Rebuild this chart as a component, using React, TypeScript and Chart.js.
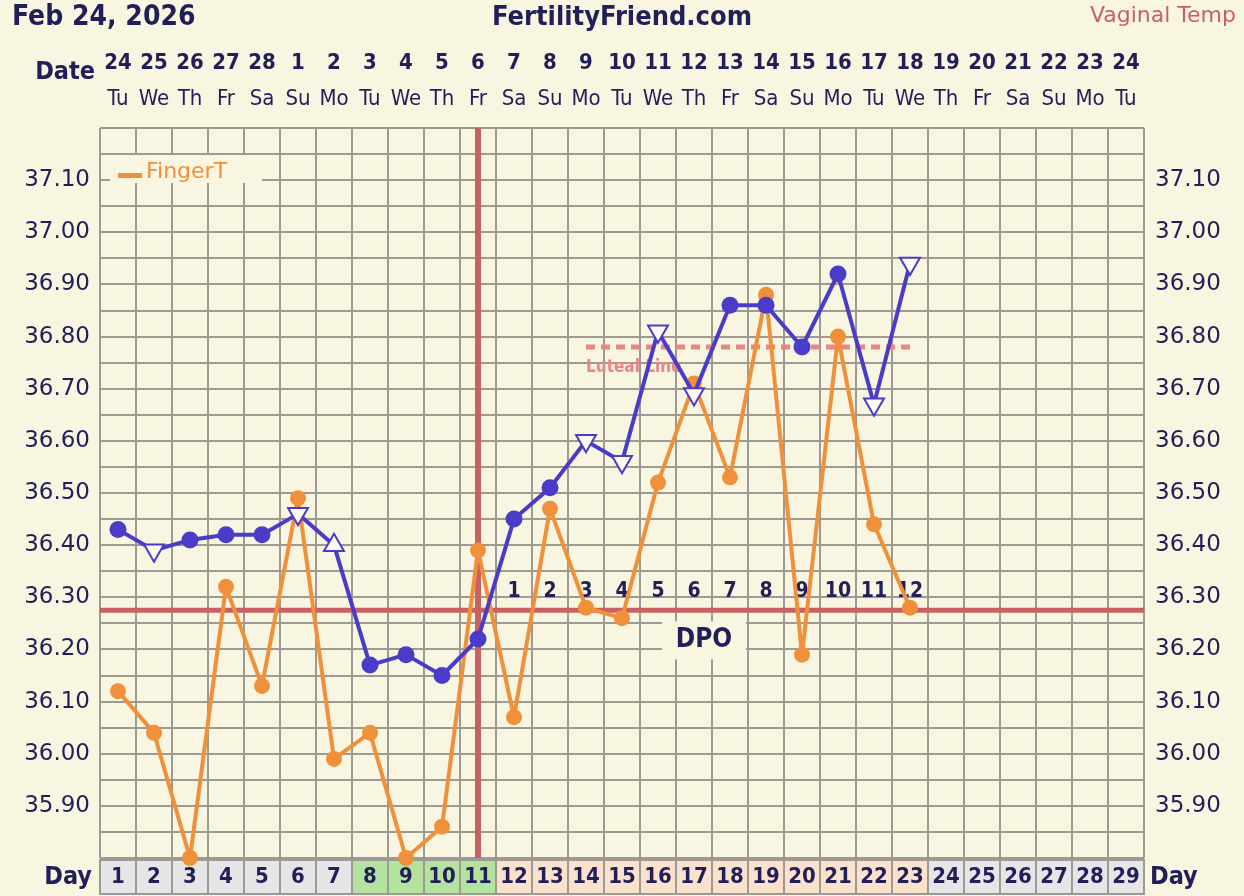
import React, { useEffect, useRef } from 'react';
import { Chart, registerables } from 'chart.js';

Chart.register(...registerables);

// ---------- data ----------
const CYCLE_DAYS = ['1', '2', '3', '4', '5', '6', '7', '8', '9', '10', '11', '12', '13', '14', '15', '16', '17', '18', '19', '20', '21', '22', '23', '24', '25', '26', '27', '28', '29'];
const DATES = ['24', '25', '26', '27', '28', '1', '2', '3', '4', '5', '6', '7', '8', '9', '10', '11', '12', '13', '14', '15', '16', '17', '18', '19', '20', '21', '22', '23', '24'];
const WEEKDAYS = ['Tu', 'We', 'Th', 'Fr', 'Sa', 'Su', 'Mo', 'Tu', 'We', 'Th', 'Fr', 'Sa', 'Su', 'Mo', 'Tu', 'We', 'Th', 'Fr', 'Sa', 'Su', 'Mo', 'Tu', 'We', 'Th', 'Fr', 'Sa', 'Su', 'Mo', 'Tu'];

const VAGINAL_TEMP = [36.43, 36.39, 36.41, 36.42, 36.42, 36.46, 36.40, 36.17, 36.19, 36.15, 36.22, 36.45, 36.51, 36.60, 36.56, 36.81, 36.69, 36.86, 36.86, 36.78, 36.92, 36.67, 36.94];
const VAGINAL_MARKERS = ['dot', 'down', 'dot', 'dot', 'dot', 'down', 'up', 'dot', 'dot', 'dot', 'dot', 'dot', 'dot', 'down', 'down', 'down', 'down', 'dot', 'dot', 'dot', 'dot', 'down', 'down'];
const FINGER_TEMP = [36.12, 36.04, 35.80, 36.32, 36.13, 36.49, 35.99, 36.04, 35.80, 35.86, 36.39, 36.07, 36.47, 36.28, 36.26, 36.52, 36.71, 36.53, 36.88, 36.19, 36.80, 36.44, 36.28];

const DAY_PHASE = ['pre', 'pre', 'pre', 'pre', 'pre', 'pre', 'pre', 'fertile', 'fertile', 'fertile', 'fertile', 'luteal', 'luteal', 'luteal', 'luteal', 'luteal', 'luteal', 'luteal', 'luteal', 'luteal', 'luteal', 'luteal', 'luteal', 'pre', 'pre', 'pre', 'pre', 'pre', 'pre'];
const DPO_LABELS = ['1', '2', '3', '4', '5', '6', '7', '8', '9', '10', '11', '12'];
const DPO_START_DAY = 12;
const DPO_TITLE_DAY = 17;
const COVERLINE = 36.275;
const OVULATION_DAY = 11;
const LUTEAL_LINE = 36.78;
const LUTEAL_FROM_DAY = 14;
const LUTEAL_TO_DAY = 23;
const Y_MIN = 35.8;
const Y_MAX = 37.2;

// ---------- style ----------
const BG = '#f8f5e0';
const GRID = '#9c9a92';
const NAVY = '#221e5a';
const BLUE = '#4b3bc9';
const ORANGE = '#f0903a';
const RED = '#c86262';
const LUTEAL = '#e98686';
const TRI_FILL = '#fcfbf3';
const PHASE_COLORS: Record<string, string> = { pre: '#e6e6e9', fertile: '#b4e3a0', luteal: '#fbe2cc' };
const COND = "'DejaVu Sans Condensed', 'DejaVu Sans', sans-serif";
const SANS = "'DejaVu Sans', sans-serif";

const lutealData = CYCLE_DAYS.map((d) => {
  const n = Number(d);
  return n >= LUTEAL_FROM_DAY && n <= LUTEAL_TO_DAY ? LUTEAL_LINE : null;
});

const yTick = (v: number | string) => {
  const r = Math.round(Number(v) * 100);
  if (r % 10 !== 0 || r === Math.round(Y_MIN * 100) || r === Math.round(Y_MAX * 100)) return '';
  return (r / 100).toFixed(2);
};

const decorations = {
  id: 'decorations',
  beforeDraw(chart: any) {
    const { ctx, chartArea, scales } = chart;
    const x = scales.x;
    ctx.save();
    ctx.fillStyle = BG;
    ctx.fillRect(0, 0, chart.width, chart.height);

    // day cells
    const colW = x.getPixelForValue(1) - x.getPixelForValue(0);
    const top = chartArea.bottom + 2;
    const bottom = chart.height - 2;
    DAY_PHASE.forEach((phase, i) => {
      const cx = x.getPixelForValue(i);
      ctx.fillStyle = PHASE_COLORS[phase];
      ctx.fillRect(cx - colW / 2, top, colW, bottom - top);
    });
    ctx.strokeStyle = GRID;
    ctx.lineWidth = 2;
    DAY_PHASE.forEach((_p, i) => {
      const cx = x.getPixelForValue(i);
      ctx.strokeRect(cx - colW / 2, top, colW, bottom - top);
    });

    // header texts
    ctx.textBaseline = 'middle';
    ctx.fillStyle = NAVY;
    ctx.font = `bold 28px ${COND}`;
    ctx.textAlign = 'left';
    ctx.fillText('Feb 24, 2026', 12, 18);
    ctx.font = `bold 27px ${COND}`;
    ctx.textAlign = 'center';
    ctx.fillText('FertilityFriend.com', (chartArea.left + chartArea.right) / 2, 18);
    ctx.fillStyle = RED;
    ctx.font = `22px ${SANS}`;
    ctx.textAlign = 'right';
    ctx.fillText('Vaginal Temp', chart.width - 8, 16);

    ctx.fillStyle = NAVY;
    ctx.font = `bold 25px ${COND}`;
    ctx.textAlign = 'right';
    ctx.fillText('Date', chartArea.left - 5, 72);
    const dayY = (top + bottom) / 2;
    ctx.fillText('Day', chartArea.left - 8, dayY);
    ctx.textAlign = 'left';
    ctx.fillText('Day', chartArea.right + 6, dayY);
    ctx.restore();
  },
  beforeDatasetsDraw(chart: any) {
    const { ctx, chartArea, scales } = chart;
    const x = scales.x;
    const y = scales.y;
    ctx.save();

    // legend box
    ctx.fillStyle = BG;
    ctx.fillRect(chartArea.left + 10, chartArea.top + 27, 152, 28);
    ctx.fillStyle = ORANGE;
    ctx.fillRect(chartArea.left + 18, chartArea.top + 45, 24, 5);
    ctx.font = `22px ${SANS}`;
    ctx.textBaseline = 'middle';
    ctx.textAlign = 'left';
    ctx.fillText('FingerT', chartArea.left + 46, chartArea.top + 44);

    // coverline & ovulation line
    const cy = y.getPixelForValue(COVERLINE);
    ctx.strokeStyle = RED;
    ctx.lineWidth = 5;
    ctx.beginPath();
    ctx.moveTo(chartArea.left, cy);
    ctx.lineTo(chartArea.right, cy);
    ctx.stroke();
    const ox = x.getPixelForValue(OVULATION_DAY - 1);
    ctx.lineWidth = 6;
    ctx.beginPath();
    ctx.moveTo(ox, chartArea.top);
    ctx.lineTo(ox, chartArea.bottom);
    ctx.stroke();

    // DPO box
    const dx = x.getPixelForValue(DPO_TITLE_DAY - 1) + 10;
    ctx.fillStyle = BG;
    ctx.fillRect(dx - 42, cy + 11, 84, 38);
    ctx.fillStyle = NAVY;
    ctx.font = `bold 26px ${COND}`;
    ctx.textAlign = 'center';
    ctx.fillText('DPO', dx, cy + 30);

    // DPO numbers
    ctx.font = `bold 21px ${COND}`;
    DPO_LABELS.forEach((lbl, i) => {
      ctx.fillText(lbl, x.getPixelForValue(DPO_START_DAY - 1 + i), cy - 19);
    });

    // luteal label
    ctx.fillStyle = LUTEAL;
    ctx.font = `bold 17px ${COND}`;
    ctx.textAlign = 'left';
    ctx.fillText('Luteal Line', x.getPixelForValue(LUTEAL_FROM_DAY - 1), y.getPixelForValue(LUTEAL_LINE) + 21);
    ctx.restore();
  },
};

export default function App() {
  const ref = useRef<HTMLCanvasElement | null>(null);

  useEffect(() => {
    if (!ref.current) return;
    const chart = new Chart(ref.current, {
      type: 'line',
      data: {
        labels: CYCLE_DAYS,
        datasets: [
          {
            label: 'Vaginal Temp',
            data: VAGINAL_TEMP,
            xAxisID: 'x',
            yAxisID: 'y',
            order: 0,
            borderColor: BLUE,
            borderWidth: 4,
            borderJoinStyle: 'round',
            borderCapStyle: 'round',
            pointStyle: VAGINAL_MARKERS.map((m) => (m === 'dot' ? 'circle' : 'triangle')) as any,
            pointRotation: VAGINAL_MARKERS.map((m) => (m === 'down' ? 180 : 0)),
            pointRadius: VAGINAL_MARKERS.map((m) => (m === 'dot' ? 8.5 : 11.5)),
            pointBackgroundColor: VAGINAL_MARKERS.map((m) => (m === 'dot' ? BLUE : TRI_FILL)),
            pointBorderColor: BLUE,
            pointBorderWidth: VAGINAL_MARKERS.map((m) => (m === 'dot' ? 0 : 2)),
            clip: false as any,
          },
          {
            label: 'FingerT',
            data: FINGER_TEMP,
            xAxisID: 'x',
            yAxisID: 'y',
            order: 1,
            borderColor: ORANGE,
            borderWidth: 4,
            borderJoinStyle: 'round',
            borderCapStyle: 'round',
            pointRadius: 8,
            pointBackgroundColor: ORANGE,
            pointBorderWidth: 0,
            clip: false as any,
          },
          {
            label: 'Luteal Line',
            data: lutealData,
            xAxisID: 'x',
            yAxisID: 'y',
            order: 2,
            borderColor: LUTEAL,
            borderWidth: 5,
            borderDash: [9, 6],
            pointRadius: 0,
          },
        ],
      },
      options: {
        animation: false,
        responsive: false,
        devicePixelRatio: 1,
        events: [],
        layout: { padding: 0 },
        plugins: {
          legend: { display: false },
          title: { display: false },
          tooltip: { enabled: false },
        },
        scales: {
          x: {
            type: 'category',
            position: 'bottom',
            offset: true,
            grid: { offset: true, color: GRID, lineWidth: 2, drawTicks: false },
            border: { display: false },
            ticks: {
              autoSkip: false,
              maxRotation: 0,
              minRotation: 0,
              padding: 6,
              color: NAVY,
              font: { family: COND, size: 22, weight: 'bold' },
            },
            afterFit: (s: any) => { s.height = 38; },
          },
          xDate: {
            type: 'category',
            position: 'top',
            weight: 1,
            labels: DATES,
            offset: true,
            grid: { display: false, drawTicks: false },
            border: { display: false },
            ticks: {
              autoSkip: false,
              maxRotation: 0,
              minRotation: 0,
              padding: 6,
              color: NAVY,
              font: { family: COND, size: 22, weight: 'bold' },
            },
            afterFit: (s: any) => { s.height = 82; },
          },
          xDow: {
            type: 'category',
            position: 'top',
            weight: 0,
            labels: WEEKDAYS,
            offset: true,
            grid: { display: false, drawTicks: false },
            border: { display: false },
            ticks: {
              autoSkip: false,
              maxRotation: 0,
              minRotation: 0,
              padding: 16,
              color: NAVY,
              font: { family: COND, size: 22 },
            },
            afterFit: (s: any) => { s.height = 46; },
          },
          y: {
            type: 'linear',
            position: 'left',
            min: Y_MIN,
            max: Y_MAX,
            grid: { color: GRID, lineWidth: 2, drawTicks: false },
            border: { display: false },
            ticks: {
              stepSize: 0.05,
              autoSkip: false,
              padding: 10,
              color: NAVY,
              font: { family: SANS, size: 23 },
              callback: yTick,
            },
            afterFit: (s: any) => { s.width = 100; },
          },
          y2: {
            type: 'linear',
            position: 'right',
            min: Y_MIN,
            max: Y_MAX,
            grid: { display: false, drawTicks: false },
            border: { display: false },
            ticks: {
              stepSize: 0.05,
              autoSkip: false,
              padding: 11,
              color: NAVY,
              font: { family: SANS, size: 23 },
              callback: yTick,
            },
            afterFit: (s: any) => { s.width = 100; },
          },
        },
      },
      plugins: [decorations],
    });
    return () => chart.destroy();
  }, []);

  return (
    <div style={{ position: 'absolute', left: 0, top: 0, width: 1244, height: 896, background: BG }}>
      <canvas ref={ref} width={1244} height={896} style={{ display: 'block' }} />
    </div>
  );
}
